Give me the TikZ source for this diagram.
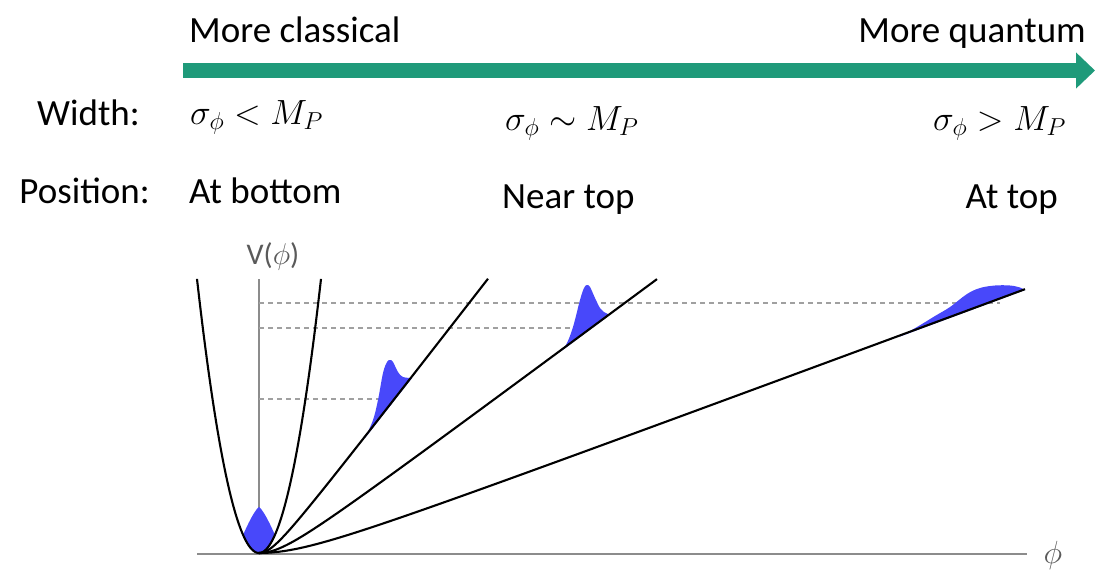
\RequirePackage{fix-cm}
\documentclass[tikz,border=0pt]{standalone}
\usepackage{fontspec}
\setmainfont{Carlito}
\usetikzlibrary{arrows.meta}
\definecolor{bargreen}{RGB}{31,154,122}
\definecolor{packetblue}{RGB}{72,72,250}
\definecolor{axisgrey}{RGB}{140,140,140}
\definecolor{dashgrey}{RGB}{160,160,160}
\definecolor{labelgrey}{RGB}{90,90,90}
\tikzset{
  lbl/.style={inner sep=0pt, font=\fontsize{37}{39}\selectfont},
  mth/.style={inner sep=0pt, font=\fontsize{35}{37}\selectfont},
  axislbl/.style={inner sep=0pt, text=labelgrey, font=\fontsize{30}{32}\selectfont},
  curve/.style={line width=2.1pt, black},
  axisline/.style={line width=1.4pt, axisgrey},
  guide/.style={line width=1.2pt, dashgrey, dash pattern=on 5pt off 4pt},
  packet/.style={fill=packetblue, draw=none},
}
\begin{document}
\begin{tikzpicture}[x=1pt,y=-1pt]
\useasboundingbox (0,0) rectangle (1095,574);
% top bar
\coordinate (barstart) at (183,70.5);
\coordinate (barend) at (1095,70.5);
\draw[bargreen, line width=15pt, -{Triangle[length=19pt,width=35pt]}] (barstart) -- (barend);
\node[lbl, anchor=base west] (classical) at (189,42) {More classical};
\node[lbl, anchor=base east] (quantum) at (1086,42) {More quantum};
% rows
\node[lbl, anchor=base west] (width) at (37,125) {Width:};
\node[mth, anchor=base west] (w1) at (190,124) {$\sigma_\phi < M_P$};
\node[mth, anchor=base west] (w2) at (505,130) {$\sigma_\phi \sim M_P$};
\node[mth, anchor=base east] (w3) at (1066,130) {$\sigma_\phi > M_P$};
\node[lbl, anchor=base east] (position) at (150,203) {Position:};
\node[lbl, anchor=base west] (p1) at (189,203) {At bottom};
\node[lbl, anchor=base west] (p2) at (502,208) {Near top};
\node[lbl, anchor=base east] (p3) at (1058,208) {At top};
% axes
\draw[axisline] (259,279) -- (259,555);
\draw[axisline] (197,554) -- (1027,554);
\node[axislbl] (vlabel) at (273,256) {V($\phi$)};
\node[axislbl, font=\fontsize{32}{34}\selectfont] (philabel) at (1053,555) {$\phi$};
% dashed guides
\draw[guide] (259,303) -- (1000,303);
\draw[guide] (259,328) -- (575,328);
\draw[guide] (259,399) -- (380,399);
% packets
\fill[packet] plot[domain=-16.2:16.2, samples=60] ({259+\x},{553-46*(1-pow(abs(\x)/23.4,1.3))})
  -- plot[domain=16.2:-16.2, samples=40] ({259+\x},{553-0.0713*\x*\x}) -- cycle;
\fill[packet] plot[smooth, tension=0.6] coordinates {(365,438) (373,420) (378,400) (383,373) (387,362) (390,360) (393,362) (398,372) (403,377) (412,378)} -- cycle;
\fill[packet] plot[smooth, tension=0.6] coordinates {(562,350.4) (567,343) (573,327) (580,300) (584,288) (587,285) (590,287) (595,298) (600,308) (604,312) (610,314.8)} -- cycle;
\fill[packet] plot[smooth, tension=0.6] coordinates {(900,336.5) (917,327) (935,316) (950,307) (967,294) (980,288) (995,285.5) (1010,285.5) (1020,287.5) (1025,290)} -- cycle;
% curves
\draw[curve] plot[domain=-62:62, samples=100] ({259+\x},{553-0.0713*\x*\x});
\draw[curve] plot[domain=0:229, samples=100] ({259+\x},{553-129*(sqrt((\x/100)^2+0.0289)-0.17)});
\draw[curve] plot[domain=0:398, samples=100] ({259+\x},{553-74.2*(sqrt((\x/100)^2+0.09)-0.30)});
\draw[curve] plot[domain=0:766, samples=120] ({259+\x},{553-37.1*(sqrt((\x/100)^2+0.3249)-0.57)});
\end{tikzpicture}
\end{document}
